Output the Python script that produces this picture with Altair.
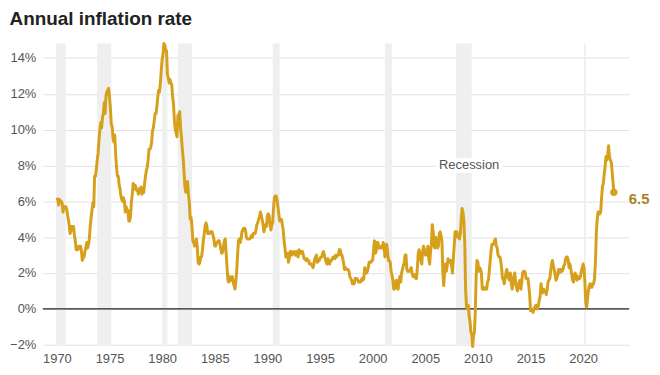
import altair as alt
import pandas as pd

# Monthly year-over-year CPI inflation (%), Jan 1970 - Dec 2022
cpi_1970s = [
    6.2, 6.1, 5.8, 6.1, 6.0, 6.0, 5.9, 5.4, 5.7, 5.6, 5.7, 5.6,
    5.3, 5.0, 4.7, 4.2, 4.4, 4.6, 4.4, 4.6, 4.1, 3.8, 3.3, 3.3,
    3.3, 3.5, 3.5, 3.5, 3.2, 2.7, 2.9, 2.9, 3.2, 3.4, 3.7, 3.4,
    3.6, 3.9, 4.6, 5.1, 5.5, 5.9, 5.7, 7.4, 7.4, 7.8, 8.3, 8.7,
    9.4, 10.0, 10.4, 10.1, 10.7, 10.9, 11.5, 10.9, 11.9, 12.1, 12.2, 12.3,
    11.8, 11.2, 10.3, 10.2, 9.5, 9.3, 9.7, 8.6, 7.9, 7.4, 7.4, 6.9,
    6.7, 6.3, 6.1, 6.0, 6.2, 6.0, 5.4, 5.7, 5.5, 5.5, 4.9, 4.9,
    5.2, 6.0, 6.4, 7.0, 6.7, 6.9, 6.8, 6.6, 6.6, 6.4, 6.7, 6.7,
    6.8, 6.4, 6.6, 6.5, 7.0, 7.4, 7.7, 7.9, 8.3, 8.9, 8.9, 9.0,
    9.3, 9.9, 10.1, 10.5, 10.9, 10.9, 11.3, 11.8, 12.2, 12.1, 12.6, 13.3,
]
cpi_1980s = [
    13.9, 14.2, 14.8, 14.7, 14.4, 14.4, 13.1, 12.9, 12.6, 12.8, 12.6, 12.5,
    11.8, 11.4, 10.5, 10.0, 9.8, 9.6, 10.8, 10.8, 11.0, 10.1, 9.6, 8.9,
    8.4, 7.6, 6.8, 6.5, 6.7, 7.1, 6.4, 5.9, 5.0, 5.1, 4.6, 3.8,
    3.7, 3.5, 3.6, 3.9, 3.5, 2.6, 2.5, 2.6, 2.9, 2.9, 3.3, 3.8,
    4.2, 4.6, 4.8, 4.6, 4.2, 4.2, 4.2, 4.3, 4.3, 4.3, 4.1, 3.9,
    3.5, 3.5, 3.7, 3.7, 3.8, 3.8, 3.6, 3.3, 3.1, 3.2, 3.5, 3.8,
    3.9, 3.1, 2.3, 1.6, 1.5, 1.8, 1.6, 1.6, 1.8, 1.5, 1.3, 1.1,
    1.5, 2.1, 3.0, 3.8, 3.9, 3.7, 3.9, 4.3, 4.4, 4.5, 4.5, 4.4,
    4.0, 3.9, 3.9, 3.9, 3.9, 4.0, 4.1, 4.0, 4.2, 4.2, 4.2, 4.4,
    4.7, 4.8, 5.0, 5.1, 5.4, 5.2, 5.0, 4.7, 4.3, 4.5, 4.7, 4.6,
]
cpi_1990s = [
    5.2, 5.3, 5.2, 4.7, 4.4, 4.7, 4.8, 5.6, 6.2, 6.3, 6.3, 6.1,
    5.7, 5.3, 4.9, 4.9, 5.0, 4.7, 4.4, 3.8, 3.4, 2.9, 3.0, 3.1,
    2.6, 2.8, 3.2, 3.2, 3.0, 3.1, 3.2, 3.1, 3.0, 3.2, 3.0, 2.9,
    3.3, 3.2, 3.1, 3.2, 3.2, 3.0, 2.8, 2.8, 2.7, 2.8, 2.7, 2.7,
    2.5, 2.5, 2.5, 2.4, 2.3, 2.5, 2.8, 2.9, 3.0, 2.6, 2.7, 2.7,
    2.8, 2.9, 2.9, 3.1, 3.2, 3.0, 2.8, 2.6, 2.5, 2.8, 2.6, 2.5,
    2.7, 2.7, 2.8, 2.9, 2.9, 2.8, 3.0, 2.9, 3.0, 3.0, 3.3, 3.3,
    3.0, 3.0, 2.8, 2.5, 2.2, 2.3, 2.2, 2.2, 2.2, 2.1, 1.8, 1.7,
    1.6, 1.4, 1.4, 1.4, 1.7, 1.7, 1.7, 1.6, 1.5, 1.5, 1.5, 1.6,
    1.7, 1.6, 1.7, 2.3, 2.1, 2.0, 2.1, 2.3, 2.6, 2.6, 2.6, 2.7,
]
cpi_2000s = [
    2.7, 3.2, 3.8, 3.1, 3.2, 3.7, 3.7, 3.4, 3.5, 3.4, 3.4, 3.4,
    3.7, 3.5, 2.9, 3.3, 3.6, 3.2, 2.7, 2.7, 2.6, 2.1, 1.9, 1.6,
    1.1, 1.1, 1.5, 1.6, 1.2, 1.1, 1.5, 1.8, 1.5, 2.0, 2.2, 2.4,
    2.6, 3.0, 3.0, 2.2, 2.1, 2.1, 2.1, 2.2, 2.3, 2.0, 1.8, 1.9,
    1.9, 1.7, 1.7, 2.3, 3.1, 3.3, 3.0, 2.7, 2.5, 3.2, 3.5, 3.3,
    3.0, 3.0, 3.1, 3.5, 2.8, 2.5, 3.2, 3.6, 4.7, 4.3, 3.5, 3.4,
    4.0, 3.6, 3.4, 3.5, 4.2, 4.3, 4.1, 3.8, 2.1, 1.3, 2.0, 2.5,
    2.1, 2.4, 2.8, 2.6, 2.7, 2.7, 2.4, 2.0, 2.8, 3.5, 4.3, 4.1,
    4.3, 4.0, 4.0, 3.9, 4.2, 5.0, 5.6, 5.4, 4.9, 3.7, 1.1, 0.1,
    0.0, 0.2, -0.4, -0.7, -1.3, -1.4, -2.1, -1.5, -1.3, -0.2, 1.8, 2.7,
]
cpi_2010s = [
    2.6, 2.1, 2.3, 2.2, 2.0, 1.1, 1.2, 1.1, 1.1, 1.2, 1.1, 1.5,
    1.6, 2.1, 2.7, 3.2, 3.6, 3.6, 3.6, 3.8, 3.9, 3.5, 3.4, 3.0,
    2.9, 2.9, 2.7, 2.3, 1.7, 1.7, 1.4, 1.7, 2.0, 2.2, 1.8, 1.7,
    1.6, 2.0, 1.5, 1.1, 1.4, 1.8, 2.0, 1.5, 1.2, 1.0, 1.2, 1.5,
    1.6, 1.1, 1.5, 2.0, 2.1, 2.1, 2.0, 1.7, 1.7, 1.7, 1.3, 0.8,
    -0.1, 0.0, -0.1, -0.2, 0.0, 0.1, 0.2, 0.2, 0.0, 0.2, 0.5, 0.7,
    1.4, 1.0, 0.9, 1.1, 1.0, 1.0, 0.8, 1.1, 1.5, 1.6, 1.7, 2.1,
    2.5, 2.7, 2.4, 2.2, 1.9, 1.6, 1.7, 1.9, 2.2, 2.0, 2.2, 2.1,
    2.1, 2.2, 2.4, 2.5, 2.8, 2.9, 2.9, 2.7, 2.3, 2.5, 2.2, 1.9,
    1.6, 1.5, 1.9, 2.0, 1.8, 1.6, 1.8, 1.7, 1.7, 1.8, 2.1, 2.3,
]
cpi_2020s = [
    2.5, 2.3, 1.5, 0.3, 0.1, 0.6, 1.0, 1.3, 1.4, 1.2, 1.2, 1.4,
    1.4, 1.7, 2.6, 4.2, 5.0, 5.4, 5.4, 5.3, 5.4, 6.2, 6.8, 7.0,
    7.5, 7.9, 8.5, 8.3, 8.6, 9.1, 8.5, 8.3, 8.2, 7.7, 7.1, 6.5,
]

# NBER recessions (decimal years)
rec_start = [1969.917, 1973.833, 1980.0, 1981.5, 1990.5, 2001.167, 2007.917, 2020.083]
rec_end = [1970.833, 1975.167, 1980.5, 1982.833, 1991.167, 2001.833, 2009.417, 2020.25]

ann_year = [2009.17]
ann_value = [8.0]
ann_text = ["Recession"]

zero_line = [0]
y_ticks = [-2, 0, 2, 4, 6, 8, 10, 12, 14]
x_ticks = [1970, 1975, 1980, 1985, 1990, 1995, 2000, 2005, 2010, 2015, 2020]

values = cpi_1970s + cpi_1980s + cpi_1990s + cpi_2000s + cpi_2010s + cpi_2020s
df = pd.DataFrame({
    "year": [1970 + i / 12 for i in range(len(values))],
    "rate": values,
})
last = df.tail(1).copy()
last["label"] = last["rate"].map(lambda v: f"{v:.1f}")
rec = pd.DataFrame({"start": rec_start, "end": rec_end})
ann = pd.DataFrame({"year": ann_year, "rate": ann_value, "text": ann_text})
zero = pd.DataFrame({"rate": zero_line})

LINE = "#D6A01C"
LABEL = "#A8821E"
FONT = "Liberation Sans"

xscale = alt.Scale(domain=[1968.66, 2024.37], nice=False, zero=False)
yscale = alt.Scale(domain=[-2, 14.8], nice=False, zero=False)

xaxis = alt.Axis(values=x_ticks, format="d", grid=False, domain=False, ticks=False,
                 tickSize=0, labelPadding=8, labelFontSize=13, labelColor="#555555",
                 labelFont=FONT, title=None)
yaxis = alt.Axis(values=y_ticks, labelExpr="format(datum.value, 'd') + '%'",
                 grid=True, gridColor="#e2e2e2", gridWidth=1, domain=False,
                 ticks=False, tickSize=0, labelPadding=7, labelFontSize=13,
                 labelColor="#555555", labelFont=FONT, title=None)


def X(field):
    return alt.X(field, scale=xscale, axis=xaxis)


def Y(field):
    return alt.Y(field, scale=yscale, axis=yaxis)


bands = alt.Chart(rec).mark_rect(color="#efefef").encode(
    x=X("start:Q"),
    x2="end:Q",
)

zero_rule = alt.Chart(zero).mark_rule(color="#222222", strokeWidth=1.2).encode(
    y=Y("rate:Q")
)

line = alt.Chart(df).mark_line(color=LINE, strokeWidth=3, strokeJoin="round").encode(
    x=X("year:Q"), y=Y("rate:Q")
)

dot = alt.Chart(last).mark_point(filled=True, size=55, color=LINE, opacity=1).encode(
    x=X("year:Q"), y=Y("rate:Q")
)
end_label = alt.Chart(last).mark_text(
    align="left", baseline="middle", dx=15, dy=7, fontSize=15, fontWeight="bold",
    color=LABEL, font=FONT,
).encode(x=X("year:Q"), y=Y("rate:Q"), text="label:N")

halo = alt.Chart(ann).mark_text(
    align="center", baseline="middle", fontSize=13, font=FONT,
    color="white", stroke="white", strokeWidth=8, strokeJoin="round",
).encode(x=X("year:Q"), y=Y("rate:Q"), text="text:N")
ann_text_mark = alt.Chart(ann).mark_text(
    align="center", baseline="middle", fontSize=13, font=FONT, color="#555555",
).encode(x=X("year:Q"), y=Y("rate:Q"), text="text:N")

chart = alt.layer(
    bands, zero_rule, line, halo, ann_text_mark, dot, end_label
).properties(
    width=590,
    height=303,
    padding={"left": 35, "top": 34.7, "right": 23, "bottom": 21},
    autosize=alt.AutoSizeParams(type="none"),
    title=alt.TitleParams(
        "Annual inflation rate", anchor="start", offset=-2,
        fontSize=19, fontWeight="bold", color="#222222", font=FONT,
        baseline="alphabetic",
    ),
).configure_view(strokeWidth=0)

chart.save("out.html", embed_options={"renderer": "svg", "actions": False})
